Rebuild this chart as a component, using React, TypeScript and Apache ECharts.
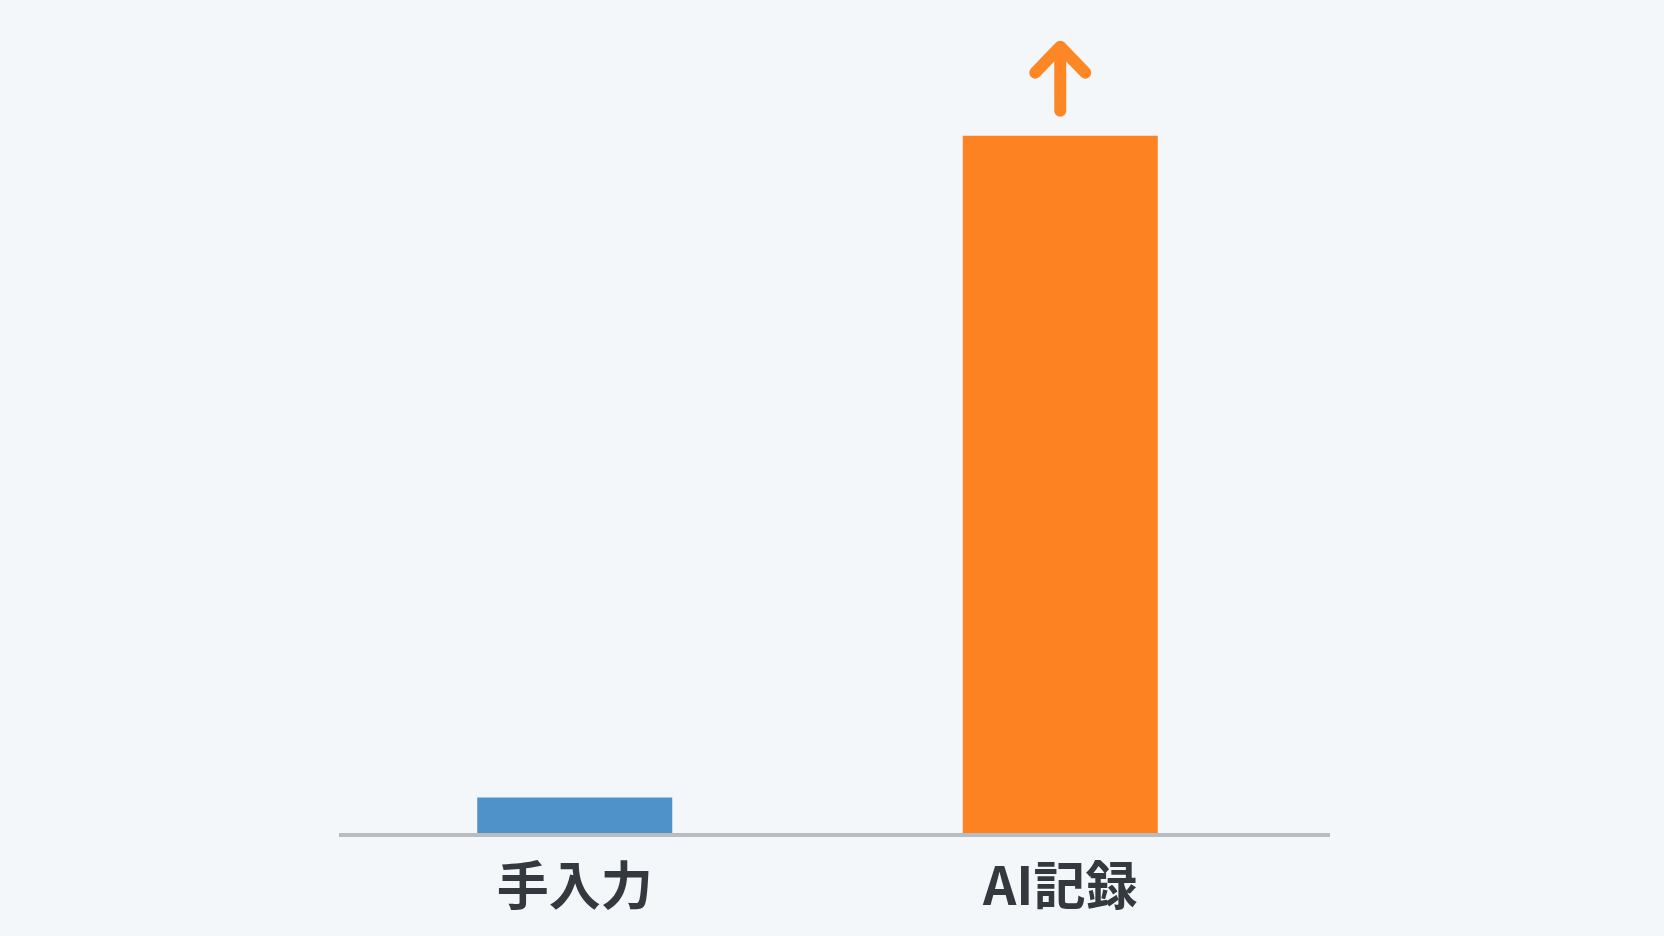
import React, { useEffect, useRef } from "react";
import * as echarts from "echarts";

const categories: string[] = ["手入力", "AI記録"];
const values: number[] = [5, 93];
const barColors: string[] = ["#4f91c9", "#fc8222"];
const yMax = 100;

export default function App() {
  const ref = useRef<HTMLDivElement>(null);

  useEffect(() => {
    document.body.style.margin = "0";
    document.body.style.background = "#f3f7fa";
    const el = ref.current!;
    const chart = echarts.init(el, undefined, { renderer: "svg" });
    chart.setOption({
      animation: false,
      backgroundColor: "#f3f7fa",
      grid: { left: 332, right: 361, top: 83, bottom: 101 },
      xAxis: {
        type: "category",
        data: categories,
        axisLine: { show: false },
        axisTick: { show: false },
        axisLabel: {
          margin: 21,
          fontSize: 52,
          fontWeight: "bold",
          color: "#34393f",
          fontFamily: "'Noto Sans CJK JP', 'Noto Sans', sans-serif",
        },
      },
      yAxis: {
        type: "value",
        min: 0,
        max: yMax,
        show: false,
        splitLine: { show: false },
      },
      series: [
        {
          type: "bar",
          barWidth: 195,
          data: values.map((v, i) => ({ value: v, itemStyle: { color: barColors[i] } })),
        },
      ],
    });

    const y0 = chart.convertToPixel({ gridIndex: 0 }, [0, 0]) as number[];
    const top = chart.convertToPixel({ gridIndex: 0 }, [1, values[1]]) as number[];
    const cx = top[0];
    const by = top[1];
    const arrowColor = "#fd8725";
    chart.setOption({
      graphic: [
        {
          type: "line",
          shape: { x1: 339, y1: y0[1], x2: 1330, y2: y0[1] },
          style: { stroke: "#b9bdc1", lineWidth: 4 },
          z: 10,
        },
        {
          type: "line",
          shape: { x1: cx, y1: by - 25, x2: cx, y2: by - 86 },
          style: { stroke: arrowColor, lineWidth: 12, lineCap: "round" },
        },
        {
          type: "polyline",
          shape: {
            points: [
              [cx - 25, by - 63],
              [cx, by - 89],
              [cx + 25, by - 63],
            ],
          },
          style: { stroke: arrowColor, fill: "none", lineWidth: 12, lineCap: "round", lineJoin: "round" },
        },
      ],
    });

    return () => chart.dispose();
  }, []);

  return <div ref={ref} style={{ width: 1664, height: 936 }} />;
}
